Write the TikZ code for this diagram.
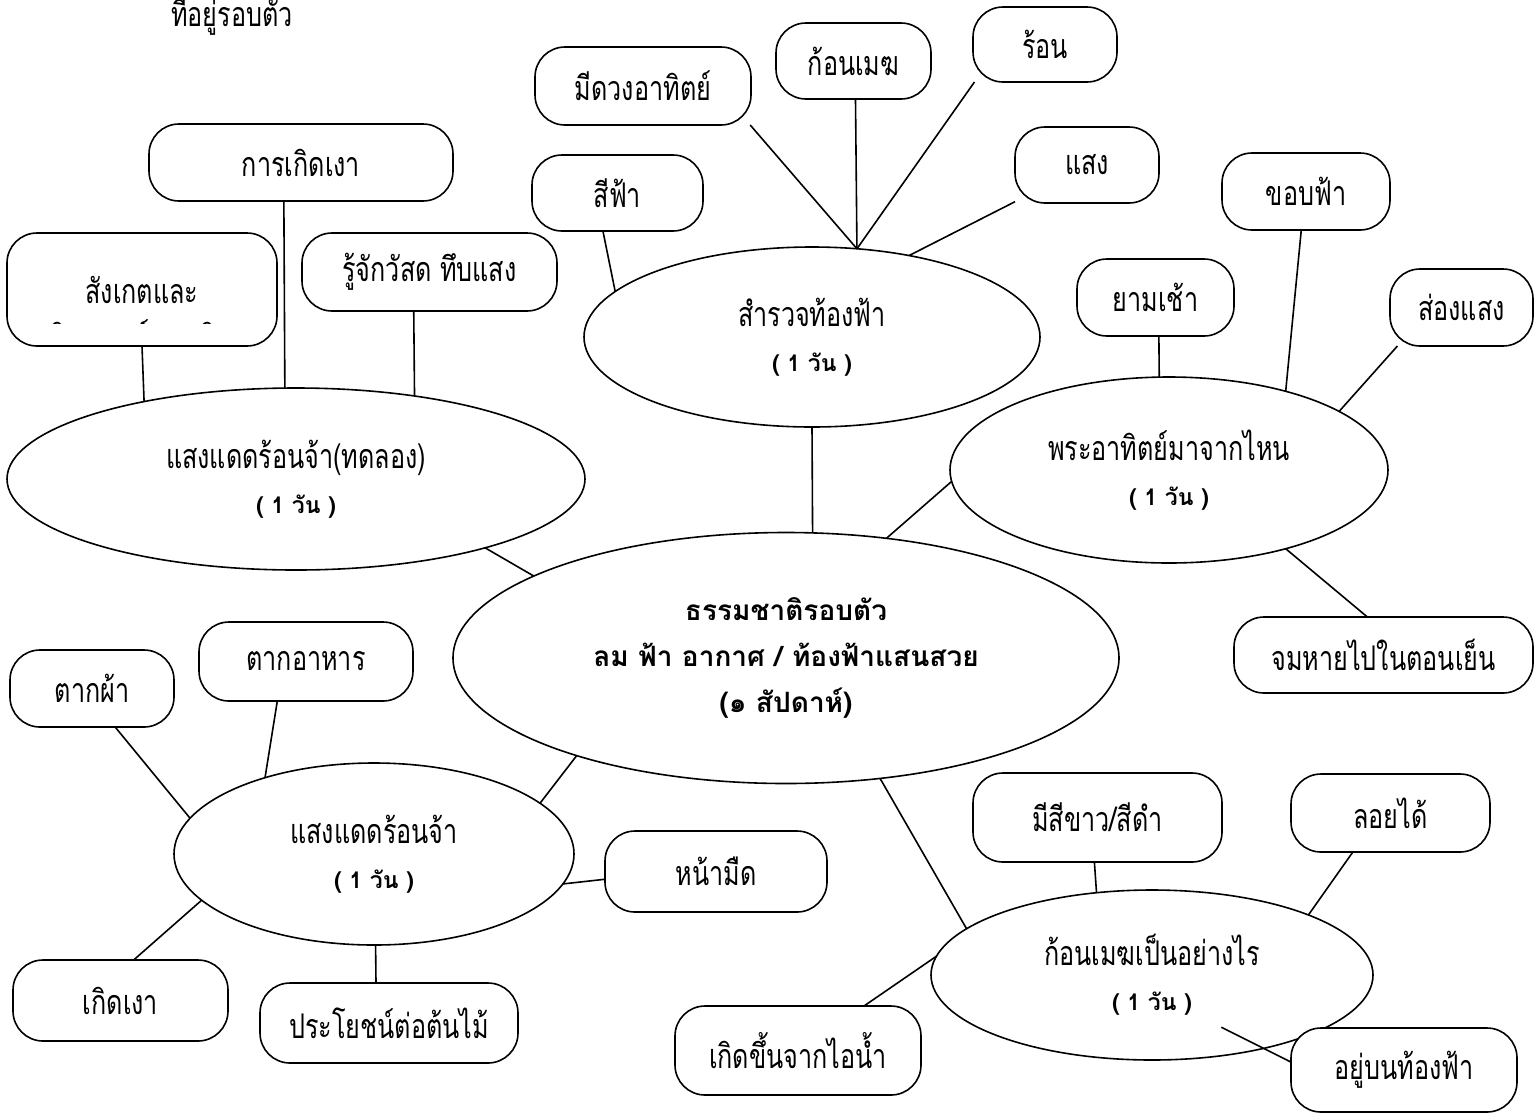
\documentclass[tikz,border=0pt]{standalone}
\usepackage{fontspec}
\setmainfont[Script=Thai, FakeStretch=0.74]{Loma}
\newfontfamily\loma[Script=Thai]{Loma}
\usetikzlibrary{calc,shapes.geometric}
\tikzset{
  lbl/.style={font=\fontsize{34}{45}\selectfont},
  box/.style={draw, line width=1.6pt, rounded corners=30pt, fill=white, inner sep=0pt, outer sep=0pt, lbl},
  oval/.style={draw, ellipse, line width=1.6pt, fill=white, inner sep=0pt, outer sep=0pt, align=center, lbl},
  link/.style={line width=1.6pt},
}
\newcommand{\dayone}{{\loma\bfseries\fontsize{23}{45}\selectfont ( 1 วัน )}}
\begin{document}
\begin{tikzpicture}[x=1pt,y=-1pt]
\fill[white] (0,0) rectangle (1536,1117);
\useasboundingbox (0,0) rectangle (1536,1117);

% top text (cut by page edge)
\node[lbl, anchor=base, inner sep=0pt] (toptext) at (232,26) {ที่อยู่รอบตัว};

% ellipses
\node[oval, minimum width=578pt, minimum height=182pt] (e3) at (296,479) {แสงแดดร้อนจ้า(ทดลอง)\\\dayone};
\node[oval, minimum width=456pt, minimum height=180pt] (e2) at (812,337) {สำรวจท้องฟ้า\\\dayone};
\node[oval, minimum width=438pt, minimum height=186pt] (e4) at (1169,470) {พระอาทิตย์มาจากไหน\\\dayone};
\node[oval, minimum width=666pt, minimum height=251pt, font=\loma\bfseries\fontsize{28}{46}\selectfont] (e1) at (786,658) {ธรรมชาติรอบตัว\\ลม ฟ้า อากาศ / ท้องฟ้าแสนสวย\\(๑ สัปดาห์)};
\node[oval, minimum width=400pt, minimum height=182pt] (e5) at (374,854) {แสงแดดร้อนจ้า\\\dayone};
\node[oval, minimum width=442pt, minimum height=170pt] (e6) at (1152,975) {ก้อนเมฆเป็นอย่างไร\\\dayone};

% boxes
\node[box, minimum width=304pt, minimum height=77pt] (gbox) at (301,162.5) {การเกิดเงา};
\node[box, minimum width=270pt, minimum height=113pt] (obox) at (142,289.5) {สังเกตและ};
\begin{scope}
  \clip (obox.north west) rectangle ([yshift=-90pt]obox.north east);
  \node[lbl, anchor=base, inner sep=0pt] (obox2) at ([yshift=-116pt]obox.north) {วิเคราะห์การเกิด};
\end{scope}
\node[box, minimum width=255pt, minimum height=78pt] (rbox) at (429.5,272) {รู้จักวัสด ทึบแสง};
\node[box, minimum width=216pt, minimum height=78pt] (mbox) at (643,86) {มีดวงอาทิตย์};
\node[box, minimum width=155pt, minimum height=76pt] (kbox) at (853.5,61) {ก้อนเมฆ};
\node[box, minimum width=144pt, minimum height=75pt] (rnbox) at (1045,44.5) {ร้อน};
\node[box, minimum width=171pt, minimum height=76pt] (sbox) at (617.5,193) {สีฟ้า};
\node[box, minimum width=144pt, minimum height=76pt] (lbox) at (1087,165) {แสง};
\node[box, minimum width=168pt, minimum height=77pt] (kfbox) at (1306,191.5) {ขอบฟ้า};
\node[box, minimum width=157pt, minimum height=77pt] (ybox) at (1155.5,297.5) {ยามเช้า};
\node[box, minimum width=143pt, minimum height=77pt] (sbox2) at (1461.5,307.5) {ส่องแสง};
\node[box, minimum width=299pt, minimum height=76pt] (jbox) at (1383.5,655) {จมหายไปในตอนเย็น};
\node[box, minimum width=164pt, minimum height=77pt] (tbox) at (92,688.5) {ตากผ้า};
\node[box, minimum width=214pt, minimum height=79pt] (tabox) at (306,661.5) {ตากอาหาร};
\node[box, minimum width=222pt, minimum height=81pt] (nbox) at (716,871.5) {หน้ามืด};
\node[box, minimum width=215pt, minimum height=81pt] (gbox2) at (120.5,1000.5) {เกิดเงา};
\node[box, minimum width=258pt, minimum height=80pt] (pbox) at (389,1023) {ประโยชน์ต่อต้นไม้};
\node[box, minimum width=249pt, minimum height=89pt] (mwbox) at (1097.5,817.5) {มีสีขาว/สีดำ};
\node[box, minimum width=199pt, minimum height=78pt] (lybox) at (1390.5,813) {ลอยได้};
\node[box, minimum width=246pt, minimum height=89pt] (kibox) at (798,1050.5) {เกิดขึ้นจากไอน้ำ};
\node[box, minimum width=226pt, minimum height=84pt] (abox) at (1404,1070) {อยู่บนท้องฟ้า};

% connectors
\draw[link] (gbox.246.2) -- (e3.97.5);
\draw[link] (obox.south) -- (e3.153.4);
\draw[link] (rbox.248.3) -- (e3.35.2);
\draw[link] (e3.340.2) -- (e1.162.5);
\draw[link] (mbox.340.1) -- (e2.63.5);
\draw[link] (kbox.273.8) -- (e2.63.5);
\draw[link] (rnbox.208.7) -- (e2.63.5);
\draw[link] (sbox.249.1) -- (e2.167.3);
\draw[link] (lbox.207.3) -- (e2.40.6);
\draw[link] (e2.south) -- (e1.78.3);
\draw[link] (kfbox.263) -- (e4.34);
\draw[link] (ybox.275.2) -- (e4.96.1);
\draw[link] (sbox2.211.2) -- (e4.19.4);
\draw[link] (e4.183.4) -- (e1.50.6);
\draw[link] (e4.326.8) -- (jbox.113.8);
\draw[link] (e1.205.1) -- (e5.17.8);
\draw[link] (tbox.301.1) -- (e5.169.3);
\draw[link] (tabox.234.1) -- (e5.145.3);
\draw[link] (e5.351.95) -- (nbox.184.9);
\draw[link] (e5.195.1) -- (gbox2.72.8);
\draw[link] (e5.271.3) -- (pbox.108);
\draw[link] (e1.308.3) -- (e6.166.4);
\draw[link] (mwbox.266.8) -- (e6.124.8);
\draw[link] (lybox.226.1) -- (e6.21.1);
\draw[link] (kibox.34) -- (e6.175.8);
\draw[link] ($(e6.center)!0.69!(e6.323.8)$) -- (abox.176.5);
\end{tikzpicture}
\end{document}
